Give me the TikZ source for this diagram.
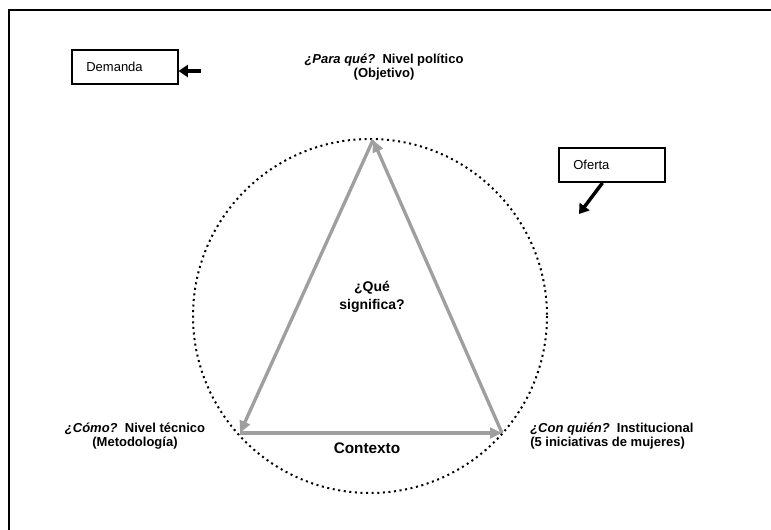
\documentclass[tikz,border=0pt]{standalone}
\usepackage{fontspec}
\setmainfont{Liberation Sans}
\usetikzlibrary{arrows.meta}

\tikzset{
  side/.style={draw=gray!75,line width=2.5pt,-{Triangle[length=9pt,width=8pt]}},
  push/.style={line width=2.6pt,-{Triangle[length=7pt,width=9pt]}},
  tagbox/.style={draw,line width=1.3pt,minimum height=25.5pt,text width=58pt,inner xsep=10.5pt,align=left,font=\fontsize{9.75}{11}\selectfont},
  vlabel/.style={font=\fontsize{9.75}{10.8}\selectfont\bfseries,inner sep=0pt}
}

\begin{document}
\begin{tikzpicture}[x=0.75pt,y=-0.75pt]
\def\cx{370}
\def\cy{316}
\def\r{177}
\useasboundingbox (0,0) rectangle (771,530);
% marco
\draw[line width=1.5pt] (9,530) -- (9,10) -- (771,10);

% circulo punteado
\draw[line width=1.5pt,dash pattern=on 1.5pt off 2.7pt] (\cx,\cy) circle (\r);

% vertices del triangulo
\coordinate (vt) at (373,140);
\coordinate (vl) at (240,433);
\coordinate (vr) at (502,433);
\draw[side] (vt) -- (vl);
\draw[side] (vl) -- (vr);
\draw[side] (vr) -- (vt);

\node[vlabel,align=center] (para) at (384,67) {\textit{¿Para qué?}\ \ Nivel político\\(Objetivo)};
\node[vlabel,align=center] (como) at (135,436) {\textit{¿Cómo?}\ \ Nivel técnico\\(Metodología)};
\node[vlabel,align=left,anchor=west] (conq) at (530,436) {\textit{¿Con quién?}\ \ Institucional\\(5 iniciativas de mujeres)};
\node[font=\fontsize{10.5}{14}\selectfont\bfseries,align=center,inner sep=0pt] (que) at (372,297) {¿Qué\\significa?};
\node[font=\fontsize{11.5}{13}\selectfont\bfseries,inner sep=0pt] (ctx) at (367,448) {Contexto};

% demanda / oferta
\node[tagbox] (dem) at (125,67) {Demanda};
\node[tagbox] (ofe) at (612,165) {Oferta};
\coordinate (dtail) at (201,71);
\coordinate (otip) at (579,214);
\draw[push] (dtail) -- (dem.east |- dtail);
\draw[push] ([xshift=33pt]ofe.south west) -- (otip);
\end{tikzpicture}
\end{document}
